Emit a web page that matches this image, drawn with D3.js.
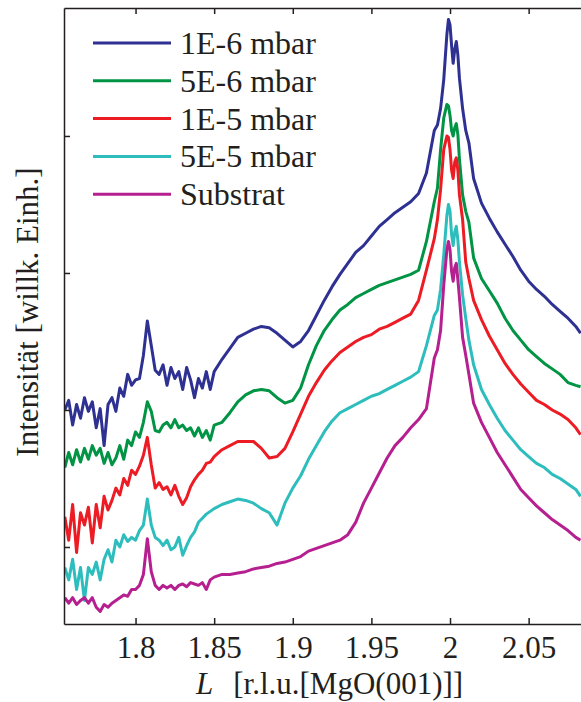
<!DOCTYPE html>
<html>
<head>
<meta charset="utf-8">
<script src="https://cdn.jsdelivr.net/npm/d3@7"></script>
<style>
  body { margin: 0; background: #fff; }
  svg text { font-family: "Liberation Serif", "Times New Roman", serif; fill: #231f20; }
</style>
</head>
<body>
<script>
// L values (r.l.u.) shared by all scans
const L = [1.755, 1.7575, 1.76, 1.7625, 1.765, 1.7675, 1.77, 1.7725, 1.775, 1.7775,
           1.78, 1.7825, 1.785, 1.7875, 1.79, 1.7925, 1.795, 1.7975, 1.80, 1.8025,
           1.805, 1.8075, 1.81, 1.8125, 1.815, 1.8175, 1.82, 1.8225, 1.825, 1.8275,
           1.83, 1.8325, 1.835, 1.8375, 1.84, 1.8425, 1.845, 1.8475, 1.85,
           1.855, 1.86, 1.865, 1.87, 1.875, 1.88, 1.885, 1.89, 1.895, 1.90,
           1.905, 1.91, 1.915, 1.92, 1.925, 1.93, 1.935, 1.94, 1.945, 1.95,
           1.955, 1.96, 1.965, 1.97, 1.975,
           1.98, 1.985, 1.99, 1.992, 1.994, 1.996, 1.998, 1.999, 2.000, 2.001,
           2.002, 2.003, 2.004, 2.005, 2.006, 2.008, 2.010, 2.012, 2.015,
           2.02, 2.025, 2.03, 2.035, 2.04, 2.045, 2.05, 2.055, 2.06, 2.065,
           2.07, 2.075, 2.08, 2.083];

// log intensity (arbitrary units, offset per scan)
const p1E6 = [1.00, 1.07, 0.89, 1.04, 0.94, 1.09, 0.99, 1.06, 0.87, 1.01,
              0.74, 1.04, 1.09, 0.99, 1.16, 1.10, 1.26, 1.18, 1.22, 1.23,
              1.40, 1.65, 1.47, 1.29, 1.26, 1.33, 1.18, 1.31, 1.23, 1.28,
              1.15, 1.31, 1.22, 1.09, 1.23, 1.16, 1.28, 1.15, 1.28,
              1.37, 1.45, 1.53, 1.56, 1.59, 1.61, 1.60, 1.56, 1.51, 1.46,
              1.50, 1.58, 1.69, 1.80, 1.90, 1.99, 2.07, 2.15, 2.20, 2.27,
              2.34, 2.39, 2.44, 2.48, 2.52,
              2.58, 2.73, 3.04, 3.08, 3.20, 3.41, 3.74, 3.85, 3.81, 3.66,
              3.53, 3.63, 3.69, 3.59, 3.42, 3.20, 3.04, 2.95, 2.69,
              2.51, 2.40, 2.30, 2.21, 2.12, 2.02, 1.94, 1.88, 1.83, 1.77,
              1.72, 1.67, 1.61, 1.56];

const p5E6 = [0.58, 0.69, 0.60, 0.71, 0.62, 0.72, 0.64, 0.74, 0.67, 0.72,
              0.61, 0.69, 0.60, 0.65, 0.74, 0.64, 0.78, 0.74, 0.84, 0.80,
              0.91, 1.06, 0.99, 0.85, 0.84, 0.89, 0.91, 0.87, 0.93, 0.87,
              0.89, 0.85, 0.87, 0.81, 0.87, 0.80, 0.85, 0.78, 0.89,
              0.91, 0.98, 1.06, 1.11, 1.14, 1.15, 1.14, 1.09, 1.05, 1.07,
              1.16, 1.33, 1.47, 1.58, 1.66, 1.73, 1.77, 1.82, 1.85, 1.88,
              1.91, 1.93, 1.95, 1.97, 1.99,
              2.02, 2.23, 2.52, 2.62, 2.90, 3.13, 3.23, 3.22, 3.15, 3.04,
              3.00, 3.06, 3.09, 3.01, 2.83, 2.57, 2.45, 2.37, 2.11,
              1.96, 1.87, 1.78, 1.67, 1.58, 1.51, 1.44, 1.39, 1.34, 1.30,
              1.26, 1.20, 1.18, 1.17];

const p1E5 = [0.22, 0.05, 0.31, -0.04, 0.25, 0.16, 0.29, 0.03, 0.31, 0.14,
              0.37, 0.27, 0.34, 0.43, 0.38, 0.50, 0.45, 0.56, 0.53, 0.59,
              0.67, 0.80, 0.60, 0.43, 0.47, 0.42, 0.44, 0.38, 0.45, 0.37,
              0.31, 0.36, 0.44, 0.49, 0.53, 0.56, 0.61, 0.62, 0.66,
              0.71, 0.74, 0.77, 0.77, 0.77, 0.72, 0.65, 0.66, 0.72, 0.84,
              0.97, 1.10, 1.20, 1.29, 1.36, 1.42, 1.46, 1.50, 1.53, 1.55,
              1.59, 1.61, 1.64, 1.67, 1.70,
              1.80, 2.02, 2.25, 2.39, 2.61, 2.90, 3.00, 2.99, 2.90, 2.75,
              2.69, 2.81, 2.84, 2.75, 2.57, 2.39, 2.08, 1.96, 1.80,
              1.66, 1.54, 1.44, 1.34, 1.26, 1.19, 1.13, 1.07, 1.04, 1.00,
              0.97, 0.93, 0.87, 0.82];

const p5E5 = [-0.15, -0.24, -0.09, -0.31, -0.15, -0.39, -0.15, -0.20, -0.11, -0.24,
              -0.09, -0.02, -0.11, 0.05, 0.00, 0.09, 0.04, 0.07, 0.05, 0.12,
              0.16, 0.35, 0.16, 0.07, 0.05, 0.01, 0.05, -0.02, 0.00, 0.07,
              -0.06, 0.01, 0.07, 0.11, 0.18, 0.21, 0.24, 0.26, 0.28,
              0.31, 0.33, 0.35, 0.34, 0.32, 0.28, 0.25, 0.16, 0.32, 0.43,
              0.52, 0.64, 0.74, 0.84, 0.92, 0.98, 1.01, 1.04, 1.07, 1.10,
              1.12, 1.15, 1.18, 1.21, 1.24,
              1.28, 1.47, 1.69, 1.73, 1.88, 2.13, 2.42, 2.50, 2.45, 2.28,
              2.20, 2.30, 2.34, 2.24, 2.08, 1.84, 1.67, 1.51, 1.33,
              1.15, 1.04, 0.94, 0.85, 0.78, 0.71, 0.66, 0.61, 0.58, 0.53,
              0.50, 0.46, 0.42, 0.37];

const pSub = [-0.37, -0.41, -0.37, -0.42, -0.39, -0.37, -0.41, -0.37, -0.44, -0.47,
              -0.42, -0.44, -0.41, -0.39, -0.37, -0.35, -0.36, -0.31, -0.31, -0.28,
              -0.20, 0.06, -0.18, -0.28, -0.31, -0.28, -0.30, -0.28, -0.31, -0.28,
              -0.27, -0.29, -0.26, -0.27, -0.28, -0.26, -0.31, -0.24, -0.22,
              -0.20, -0.20, -0.19, -0.18, -0.16, -0.15, -0.14, -0.12, -0.11, -0.09,
              -0.07, -0.03, -0.01, 0.01, 0.03, 0.05, 0.09, 0.18, 0.32, 0.43,
              0.54, 0.65, 0.74, 0.80, 0.87,
              0.93, 1.01, 1.38, 1.44, 1.58, 1.91, 2.17, 2.23, 2.17, 2.01,
              1.94, 2.04, 2.07, 1.95, 1.82, 1.53, 1.40, 1.26, 1.05,
              0.91, 0.80, 0.69, 0.60, 0.51, 0.42, 0.36, 0.30, 0.25, 0.20,
              0.16, 0.12, 0.07, 0.05];

const seriesNames = ["1E-6 mbar", "5E-6 mbar", "1E-5 mbar", "5E-5 mbar", "Substrat"];
const xTicks = [1.8, 1.85, 1.9, 1.95, 2, 2.05];
const xTickLabels = ["1.8", "1.85", "1.9", "1.95", "2", "2.05"];
const yTicks = [0, 1, 2, 3];

const allSeries = [p1E6, p5E6, p1E5, p5E5, pSub];
const colors = ["#2e3192", "#009444", "#ed1c24", "#2ebdbd", "#b51f8f"];

const width = 581,
      height = 702,
      plotLeft = 64,
      plotTop = 8,
      plotBottom = 624,
      labelSize = 31,
      legendSize = 32;

let svg = d3.select('body')
            .append('svg')
            .attr('width', width)
            .attr('height', height);

let x = d3.scaleLinear().domain([1.7545, 2.0833]).range([plotLeft, width]);
let y = d3.scaleLinear().domain([-0.562, 3.934]).range([plotBottom, plotTop]);

svg.append('clipPath')
   .attr('id', 'plotClip')
   .append('rect')
   .attr('x', plotLeft)
   .attr('y', plotTop)
   .attr('width', width - plotLeft)
   .attr('height', plotBottom - plotTop);

let line = d3.line()
             .x((d, i) => x(L[i]))
             .y(d => y(d));

svg.append('g')
   .attr('clip-path', 'url(#plotClip)')
   .selectAll('path')
   .data(allSeries)
   .enter()
   .append('path')
   .attr('d', d => line(d))
   .attr('fill', 'none')
   .attr('stroke', (d, i) => colors[i])
   .attr('stroke-width', 3)
   .attr('stroke-linejoin', 'round');

// axes, ticks pointing inward
let styleAxis = function(g) {
    g.attr('font-family', null).attr('font-size', null);
    g.selectAll('path, line').attr('stroke', '#231f20').attr('stroke-width', 1.5);
    g.selectAll('text').attr('font-size', labelSize);
};

svg.append('g')
   .attr('transform', `translate(0,${plotBottom})`)
   .call(d3.axisBottom(x)
           .tickValues(xTicks)
           .tickFormat((d, i) => xTickLabels[i])
           .tickSizeInner(-6)
           .tickSizeOuter(0)
           .tickPadding(12))
   .call(styleAxis);

svg.append('g')
   .attr('transform', `translate(0,${plotTop})`)
   .call(d3.axisTop(x)
           .tickValues(xTicks)
           .tickFormat('')
           .tickSizeInner(-6)
           .tickSizeOuter(0))
   .call(styleAxis);

svg.append('g')
   .attr('transform', `translate(${plotLeft},0)`)
   .call(d3.axisLeft(y)
           .tickValues(yTicks)
           .tickFormat('')
           .tickSizeInner(-6)
           .tickSizeOuter(0))
   .call(styleAxis);

// axis titles
let xTitle = svg.append('text')
                .attr('x', 196)
                .attr('y', 694)
                .attr('font-size', labelSize);
xTitle.append('tspan').attr('font-style', 'italic').text('L');
xTitle.append('tspan').attr('dx', 20).text('[r.l.u.[MgO(001)]]');

svg.append('text')
   .attr('transform', 'translate(38,312) rotate(-90)')
   .attr('text-anchor', 'middle')
   .attr('font-size', labelSize)
   .text('Intensität [willk. Einh.]');

// legend
let legend = svg.append('g')
                .selectAll('g')
                .data(seriesNames)
                .enter()
                .append('g')
                .attr('transform', (d, i) => `translate(93,${43 + i * 37.8})`);

legend.append('line')
      .attr('x1', 0)
      .attr('x2', 78)
      .attr('stroke', (d, i) => colors[i])
      .attr('stroke-width', 3);

legend.append('text')
      .attr('x', 87)
      .attr('y', 11)
      .attr('font-size', legendSize)
      .text(d => d);
</script>
</body>
</html>
